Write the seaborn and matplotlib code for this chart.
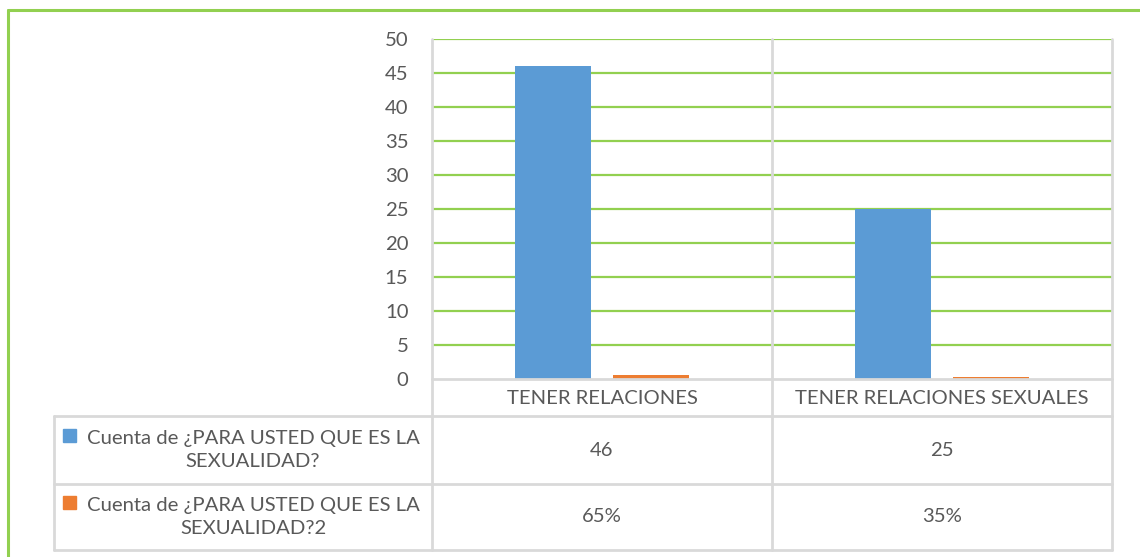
import pandas as pd
import numpy as np
import matplotlib
matplotlib.use('Agg')
import matplotlib.pyplot as plt
import seaborn as sns
from matplotlib.lines import Line2D
from matplotlib.patches import Rectangle

# datos del gráfico
categorias = ['TENER RELACIONES', 'TENER RELACIONES SEXUALES']
serie1 = [46, 25]
serie2 = [0.65, 0.35]
etiqueta1 = 'Cuenta de ¿PARA USTED QUE ES LA\nSEXUALIDAD?'
etiqueta2 = 'Cuenta de ¿PARA USTED QUE ES LA\nSEXUALIDAD?2'
tabla1 = ['46', '25']
tabla2 = ['65%', '35%']
yticks = list(range(0, 55, 5))

azul = '#5B9BD5'
naranja = '#ED7D31'
verde = '#92D050'
gris = '#D9D9D9'
texto = '#595959'
fs = 14.6

sns.set_style('white')
plt.rcParams['font.family'] = ['Lato', 'DejaVu Sans']

df = pd.DataFrame({
    'categoria': categorias * 2,
    'valor': serie1 + serie2,
    'serie': ['s1'] * 2 + ['s2'] * 2,
})

W, H = 1140, 557
fig = plt.figure(figsize=(W / 100, H / 100), dpi=100)

def fx(x):
    return x / W

def fy(y):
    return 1 - y / H

# area del grafico
x0, x1, ytop, y0 = 432, 1112, 39, 379
ax = fig.add_axes([fx(x0), fy(y0), fx(x1 - x0), (y0 - ytop) / H])
sns.barplot(data=df, x='categoria', y='valor', hue='serie', ax=ax,
            palette=[azul, naranja], width=0.576, gap=0.215, legend=False,
            saturation=1, linewidth=0)
ax.set_ylim(0, 50)
ax.set_xlim(-0.5, 1.5)
ax.set_yticks(yticks)
ax.set_yticklabels([str(t) for t in yticks], color=texto, fontsize=fs)
ax.tick_params(axis='y', length=0, pad=17)
ax.set_xticks([])
ax.set_xlabel('')
ax.set_ylabel('')
for t in yticks[1:]:
    ax.axhline(t, color=verde, lw=1.6, zorder=0)
for s in ax.spines.values():
    s.set_visible(False)

# borde verde exterior
fig.add_artist(Line2D([fx(8), fx(8)], [fy(10), fy(H + 5)], color=verde, lw=2.2,
                      transform=fig.transFigure))
fig.add_artist(Line2D([fx(8), fx(W + 5)], [fy(10), fy(10)], color=verde, lw=2.2,
                      transform=fig.transFigure))

# tabla de datos
tl, y_h, y_r1, y_r2, y_b = 54, 379, 416, 484, 550
cols = [x0, 772, x1]

def linea(xa, ya, xb, yb):
    fig.add_artist(Line2D([fx(xa), fx(xb)], [fy(ya), fy(yb)], color=gris, lw=2,
                          transform=fig.transFigure, zorder=5))

for c in cols:
    linea(c, ytop, c, y_b)
linea(x0, y_h, x1, y_h)
linea(tl, y_r1, x1, y_r1)
linea(tl, y_r2, x1, y_r2)
linea(tl, y_b, x1, y_b)
linea(tl, y_r1, tl, y_b)

for i, cat in enumerate(categorias):
    cx = (cols[i] + cols[i + 1]) / 2
    fig.text(fx(cx), fy((y_h + y_r1) / 2 + 1), cat, ha='center', va='center',
             color=texto, fontsize=fs)
    fig.text(fx(cx), fy((y_r1 + y_r2) / 2), tabla1[i], ha='center', va='center',
             color=texto, fontsize=fs)
    fig.text(fx(cx), fy((y_r2 + y_b) / 2), tabla2[i], ha='center', va='center',
             color=texto, fontsize=fs)

for (ya, yb), lab, col in [((y_r1, y_r2), etiqueta1, azul), ((y_r2, y_b), etiqueta2, naranja)]:
    cy = (ya + yb) / 2
    fig.text(fx(253), fy(cy), lab, ha='center', va='center',
             color=texto, fontsize=fs, linespacing=1.45, multialignment='center')
    fig.add_artist(Rectangle((fx(63), fy(cy - 8)), fx(13), 13 / H, color=col,
                             transform=fig.transFigure))

fig.savefig('out.png', dpi=100)
